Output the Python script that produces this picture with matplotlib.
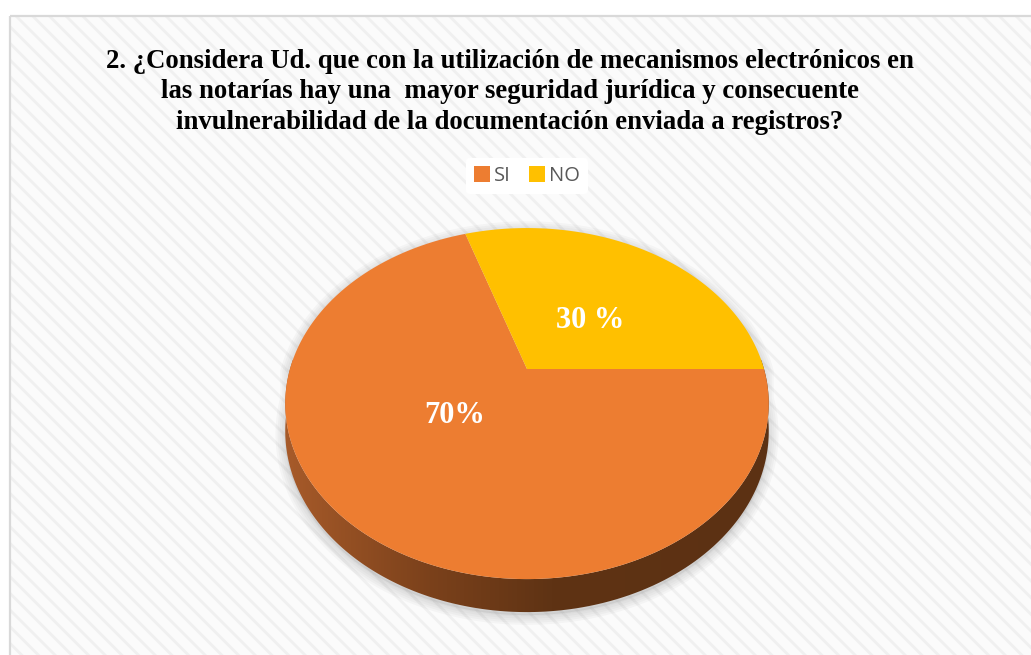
import numpy as np
import matplotlib.pyplot as plt
from matplotlib.patches import Polygon, Rectangle, Patch
from matplotlib.colors import LinearSegmentedColormap

plt.rcParams['hatch.linewidth'] = 2.0

# data
categories = ['SI', 'NO']
values = [70, 30]
pct_labels = ['70%', '30 %']
colors = ['#ED7D31', '#FFC000']
title_lines = [
    '2. ¿Considera Ud. que con la utilización de mecanismos electrónicos en',
    'las notarías hay una  mayor seguridad jurídica y consecuente',
    'invulnerabilidad de la documentación enviada a registros?',
]

W, H = 1031, 655
fig = plt.figure(figsize=(W / 100, H / 100), dpi=100)
ax = fig.add_axes([0, 0, 1, 1])

# chart area with diagonal stripes
ax.add_patch(Rectangle((10, 16), 1100, 700, facecolor='#FBFBFB', edgecolor='#F0F0F0',
                       lw=0, hatch='\\\\', zorder=0))
ax.add_patch(Rectangle((10, 16), 1100, 700, fill=False, edgecolor='#D9D9D9', lw=1.6, zorder=1))

# 3d pie projection (perspective tilt)
cx, cy = 527, 369
sx, sy, p = 237, 168.7, 0.197
depth = 26.5


def proj(theta, r=1.0, drop=0.0):
    u = r * np.cos(theta)
    v = r * np.sin(theta)
    k = 1 + p * v
    return cx + sx * u / k, cy - sy * v / k + drop / k


# soft shadow
th_back = np.linspace(0, np.pi, 200)
th_front = np.linspace(np.pi, 2 * np.pi, 200)
bx, by = proj(th_back)
fx, fy = proj(th_front, drop=depth)
sil = np.column_stack([np.r_[bx, fx], np.r_[by, fy] + 3])
for lw in [14, 11, 8, 5, 2]:
    ax.add_patch(Polygon(sil, closed=True, facecolor='#BBBBBB', edgecolor='#999999',
                         lw=lw, alpha=0.07, zorder=2))

# side wall
th = np.linspace(np.radians(150), np.radians(390), 300)
tx, ty = proj(th)
bx2, by2 = proj(th, drop=depth)
side = Polygon(np.column_stack([np.r_[tx, bx2[::-1]], np.r_[ty, by2[::-1]]]), closed=True,
               facecolor='none', edgecolor='none', zorder=3)
ax.add_patch(side)
side_cmap = LinearSegmentedColormap.from_list(
    'side', [(0, '#A85B2A'), (0.3, '#7B411B'), (0.55, '#5F3314'), (1, '#5C3113')])
img = ax.imshow(np.linspace(0, 1, 256)[None, :], extent=[cx - sx - 8, cx + sx + 8, 640, 360],
                cmap=side_cmap, aspect='auto', zorder=3)
img.set_clip_path(side)

# top face slices, clockwise from 3 o'clock
total = sum(values)
cum = np.cumsum([0] + values) / total * 2 * np.pi
for i, val in enumerate(values):
    t = np.linspace(-cum[i], -cum[i + 1], 300)
    xs, ys = proj(t)
    pts = np.column_stack([np.r_[cx, xs], np.r_[cy, ys]])
    ax.add_patch(Polygon(pts, closed=True, facecolor=colors[i], edgecolor='none', zorder=5))

# percentage labels
label_xy = [(455, 423), (590, 328)]
for (lx, ly), txt in zip(label_xy, pct_labels):
    ax.text(lx, ly, txt, ha='center', va='baseline', color='white', fontsize=22,
            fontweight='bold', family='Liberation Serif', zorder=6)

# title
for j, line in enumerate(title_lines):
    ax.text(510, 68 + j * 30.5, line, ha='center', va='baseline', fontsize=19.3,
            fontweight='bold', family='Liberation Serif', color='black', zorder=6)

ax.set_xlim(0, W)
ax.set_ylim(H, 0)
ax.axis('off')

handles = [Patch(facecolor=c, edgecolor='none', label=l) for c, l in zip(colors, categories)]
fig.legend(handles=handles, loc='center', bbox_to_anchor=(527 / W, 1 - 176 / H), ncol=2,
           frameon=True, facecolor='white', edgecolor='none', framealpha=1,
           prop={'family': 'Open Sans', 'size': 14.5}, labelcolor='#595959',
           handlelength=0.8, handleheight=0.8, handletextpad=0.2, columnspacing=0.9,
           borderpad=0.4)

fig.savefig('out.png', dpi=100, facecolor='white')
